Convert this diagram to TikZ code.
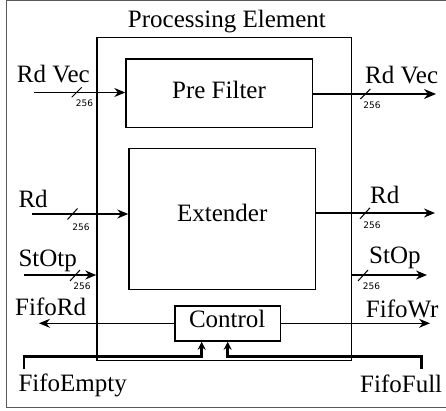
\documentclass[tikz,border=0pt]{standalone}
\usepackage{fontspec}
\setmainfont{Liberation Serif}
\newfontfamily\numfont{DejaVu Sans}
\usetikzlibrary{arrows.meta}
\begin{document}
\begin{tikzpicture}[x=1pt,y=-1pt,
  box/.style={draw, line width=1.5pt, inner sep=0pt},
  txt/.style={font=\fontsize{25}{25}\selectfont, inner sep=0pt},
  lbl/.style={txt, anchor=base west},
  bw/.style={font=\numfont\fontsize{9}{9}\selectfont, inner sep=0pt},
  sig/.style={line width=1.4pt, -{Stealth[length=11pt,width=9pt]}},
  thin sig/.style={line width=1pt, -{Stealth[length=11pt,width=9pt]}},
  bus/.style={line width=2.6pt, -{Stealth[length=12pt,width=10pt]}},
  ctl/.style={line width=2.6pt, -{Stealth[length=8pt,width=8pt]}},
  slash/.style={line width=1pt}]
\useasboundingbox (0,0) rectangle (446,411);
\draw[black!65, line width=1pt] (450,0.5) -- (6,0.5) -- (6,407) -- (450,407);

% boxes
\node[box, minimum width=254.7pt, minimum height=323pt] (pe) at (224.35,199.2) {};
\node[box, minimum width=186.3pt, minimum height=68.7pt] (pre) at (219.2,93.35) {};
\node[box, minimum width=186.3pt, minimum height=141pt] (ext) at (222.2,218.8) {};
\node[box, minimum width=105.3pt, minimum height=35pt] (ctrl) at (227.65,323.5) {};

% box texts
\node[txt, anchor=base] (title) at (226.9,28) {Processing Element};
\node[txt, anchor=base] (pret) at (219,98.3) {Pre Filter};
\node[txt, anchor=base] (extt) at (222.2,222) {Extender};
\node[txt, anchor=base] (ctrlt) at (227.2,327.3) {Control};

% free ends
\coordinate (rvi) at (34,92.5);
\coordinate (rvo) at (436,94);
\coordinate (rdi) at (32,214);
\coordinate (rdo) at (435,213);
\coordinate (sti) at (24,275);
\coordinate (sto) at (427,275);
\coordinate (frd) at (39,323.3);
\coordinate (fwr) at (430,323.3);
\coordinate (fe) at (24,368.5);
\coordinate (ff) at (421.7,369);
\coordinate (bend) at (0,356.7);
\coordinate (cs1) at ([xshift=-26pt]ctrl.south);

% connectors
\draw[sig] (rvi) -- (rvi -| pre.west);
\draw[bus] (pre.east |- rvo) -- (rvo);
\draw[sig] (rdi) -- (rdi -| ext.west);
\draw[sig] (ext.east |- rdo) -- (rdo);
\draw[sig] (sti) -- (sti -| pe.west);
\draw[sig] (pe.east |- sto) -- (sto);
\draw[thin sig] (ctrl.west |- frd) -- (frd);
\draw[thin sig] (ctrl.east |- fwr) -- (fwr);
\draw[ctl] (fe) |- (cs1 |- bend) -- (cs1);
\draw[ctl] (ff) |- (ctrl.south |- bend) -- (ctrl.south);

% bus width slashes
\draw[slash] (76.7,92.3) ++(-5,5) -- ++(10,-10);
\draw[slash] (365.3,94) ++(-5,5) -- ++(10,-10);
\draw[slash] (72.5,214) ++(-5,5.5) -- ++(10,-11);
\draw[slash] (365,213.3) ++(-5,5.5) -- ++(10,-11);
\draw[slash] (75,275.5) ++(-5,5.5) -- ++(10,-11);
\draw[slash] (363,275.5) ++(-5,5.5) -- ++(10,-11);

% width labels
\node[bw] (w1) at (84.5,103.3) {256};
\node[bw] (w2) at (372,105.7) {256};
\node[bw] (w3) at (81,227.7) {256};
\node[bw] (w4) at (372,225.7) {256};
\node[bw] (w5) at (82,286.7) {256};
\node[bw] (w6) at (371.5,286.7) {256};

% signal labels
\node[lbl] (l1) at (16.7,83) {Rd Vec};
\node[lbl] (l2) at (365,83.3) {Rd Vec};
\node[lbl] (l3) at (18.3,207.5) {Rd};
\node[lbl] (l4) at (370,204) {Rd};
\node[lbl] (l5) at (18.3,266.5) {StOtp};
\node[lbl] (l6) at (369,263.3) {StOp};
\node[lbl] (l7) at (15,315) {FifoRd};
\node[lbl] (l8) at (365.7,317.7) {FifoWr};
\node[lbl] (l9) at (18.3,391.7) {FifoEmpty};
\node[lbl] (l10) at (360,392.7) {FifoFull};
\end{tikzpicture}
\end{document}
